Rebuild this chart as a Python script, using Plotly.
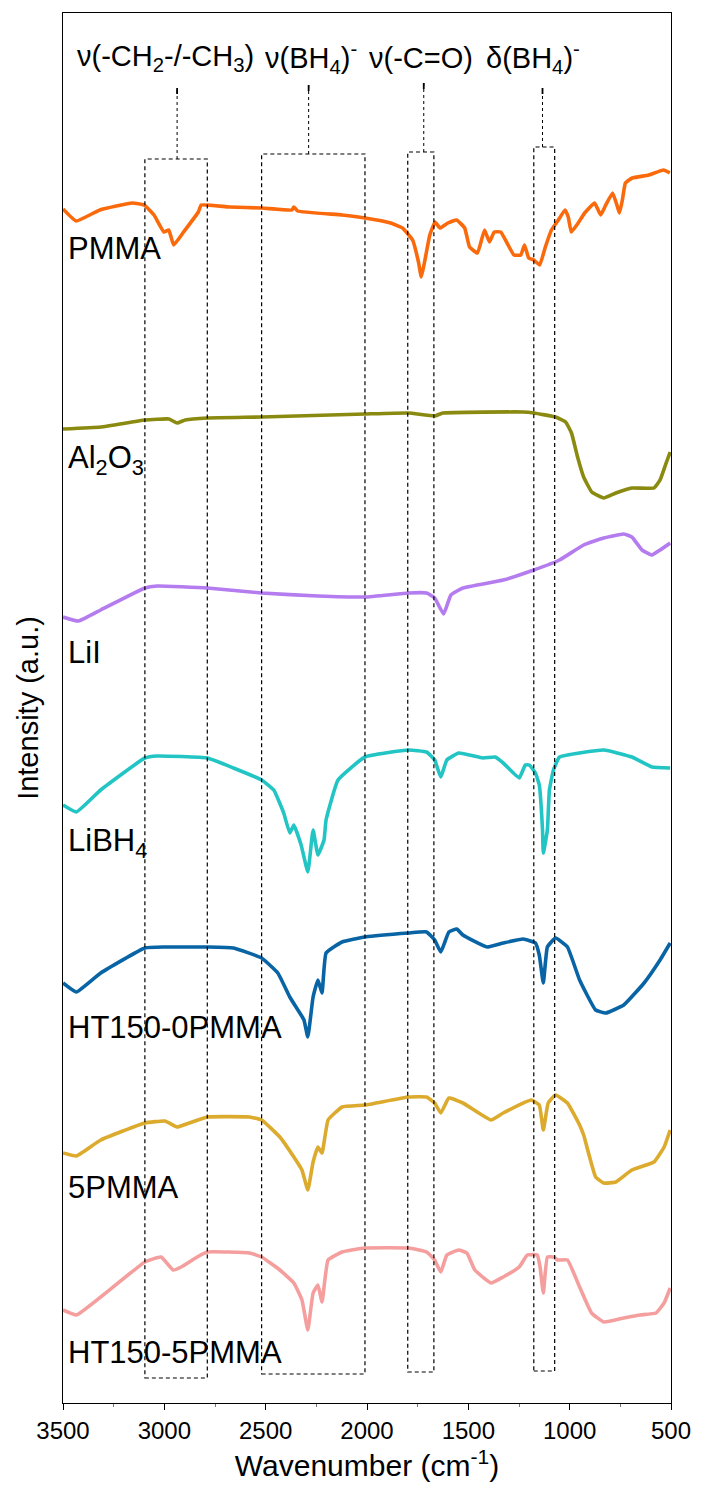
import plotly.graph_objects as go

# ---------------- data ----------------
pmma_w = [3500, 3435, 3318, 3158, 3100, 3051, 3002, 2978, 2954, 2905, 2832, 2818, 2679, 2520, 2371, 2361, 2342,
          2123, 2010, 1884, 1825, 1775, 1746, 1732, 1716, 1690, 1664, 1640, 1601, 1558, 1518, 1494, 1455, 1420,
          1396, 1372, 1340, 1309, 1275, 1241, 1223, 1202, 1177, 1148, 1120, 1090, 1056, 1023, 1007, 992, 958,
          926, 877, 847, 822, 788, 764, 754, 740, 725, 691, 610, 537, 506]
pmma_i = [1194, 1182, 1193, 1200, 1198, 1188, 1171, 1173, 1158, 1171, 1191, 1198, 1196, 1195, 1193, 1196, 1192,
          1188, 1185, 1180, 1175, 1163, 1141, 1126, 1141, 1168, 1181, 1175, 1180, 1183, 1175, 1156, 1150, 1173,
          1161, 1171, 1171, 1160, 1148, 1148, 1158, 1145, 1143, 1138, 1156, 1173, 1183, 1193, 1186, 1171, 1180,
          1190, 1200, 1188, 1198, 1210, 1196, 1190, 1203, 1220, 1225, 1228, 1233, 1230]

al2o3_w = [3500, 3314, 3096, 2977, 2937, 2897, 2788, 2520, 2010, 1795, 1666, 1626, 1229, 1177, 1070, 1020, 991,
           961, 931, 891, 832, 772, 693, 584, 554, 524, 504]
al2o3_i = [974, 976, 983, 984, 980, 983, 985, 986, 989, 990, 987, 990, 991, 990, 986, 981, 970,
           946, 926, 911, 905, 910, 915, 915, 923, 940, 951]

lii_w = [3500, 3424, 3314, 3096, 3036, 2788, 2520, 2242, 2010, 1795, 1706, 1666, 1622, 1586, 1527, 1328, 1177,
         1050, 931, 832, 733, 693, 643, 594, 554, 504]
lii_i = [786, 782, 793, 815, 817, 815, 810, 807, 806, 810, 810, 805, 789, 808, 815, 823, 833,
         843, 858, 865, 869, 866, 853, 848, 853, 860]

libh4_w = [3500, 3434, 3314, 3096, 3036, 2788, 2659, 2520, 2460, 2411, 2381, 2361, 2325, 2292, 2266, 2242, 2212,
           2202, 2143, 2010, 1795, 1706, 1666, 1636, 1606, 1547, 1428, 1368, 1328, 1249, 1219, 1199, 1169, 1150,
           1134, 1130, 1110, 1100, 1080, 1050, 832, 693, 594, 504]
libh4_i = [598, 591, 613, 645, 647, 645, 635, 623, 613, 590, 570, 578, 558, 531, 573, 548, 563,
           583, 623, 646, 653, 651, 643, 626, 643, 650, 645, 646, 640, 625, 638, 638, 630, 618,
           573, 550, 573, 613, 633, 646, 653, 646, 636, 635]

ht0_w = [3500, 3434, 3314, 3096, 2997, 2788, 2659, 2520, 2440, 2381, 2341, 2311, 2292, 2266, 2242, 2222, 2202,
         2123, 2010, 1795, 1706, 1666, 1636, 1596, 1557, 1527, 1408, 1328, 1229, 1169, 1150, 1130, 1110, 1070,
         1011, 951, 872, 822, 733, 633, 554, 504]
ht0_i = [420, 411, 430, 455, 456, 456, 455, 445, 430, 406, 393, 383, 366, 406, 423, 410, 450,
         461, 466, 470, 471, 463, 451, 471, 474, 468, 456, 460, 464, 460, 448, 420, 456, 465,
         456, 423, 393, 390, 398, 420, 443, 460]

p5_w = [3500, 3434, 3314, 3096, 2997, 2937, 2877, 2788, 2580, 2520, 2430, 2361, 2321, 2292, 2266, 2242, 2222,
        2192, 2123, 2010, 1795, 1706, 1666, 1636, 1596, 1527, 1388, 1328, 1189, 1150, 1130, 1106, 1070, 1011,
        951, 931, 872, 832, 772, 693, 584, 534, 504]
p5_i = [250, 247, 263, 280, 282, 276, 280, 286, 286, 283, 266, 246, 233, 213, 241, 256, 250,
        283, 296, 298, 306, 306, 300, 290, 305, 300, 283, 290, 303, 298, 273, 300, 308, 300,
        278, 268, 226, 220, 221, 233, 241, 256, 273]

ht5_w = [3500, 3434, 3314, 3096, 3016, 2957, 2917, 2838, 2788, 2580, 2520, 2430, 2361, 2321, 2292, 2266, 2242,
         2222, 2192, 2123, 2010, 1795, 1706, 1666, 1636, 1606, 1547, 1507, 1468, 1388, 1328, 1249, 1209, 1160,
         1146, 1130, 1110, 1080, 1060, 1011, 951, 892, 832, 733, 653, 574, 534, 504]
ht5_i = [93, 88, 106, 141, 146, 133, 136, 146, 151, 150, 146, 133, 120, 103, 73, 110, 118,
         101, 143, 151, 155, 155, 151, 143, 131, 148, 153, 150, 133, 120, 126, 136, 148, 148,
         136, 110, 146, 146, 143, 143, 116, 90, 81, 85, 88, 90, 100, 115]

sample_names = ["PMMA", "Al<sub>2</sub>O<sub>3</sub>", "LiI", "LiBH<sub>4</sub>", "HT150-0PMMA", "5PMMA", "HT150-5PMMA"]
sample_colors = ["#FA6A0C", "#8A8A10", "#B47CEE", "#22C4C4", "#0864A4", "#DCAA2C", "#F49E9E"]
label_levels = [1155, 943, 751, 560, 376, 216, 51]

band_names = ["ν(-CH<sub>2</sub>-/-CH<sub>3</sub>)", "ν(BH<sub>4</sub>)<sup>-</sup>", "ν(-C=O)", "δ(BH<sub>4</sub>)<sup>-</sup>"]
band_lo = [2788, 2010, 1670, 1074]
band_hi = [3096, 2520, 1799, 1177]
band_mark = [2937, 2288, 1720, 1134]
band_text_x = [2992, 2277, 1732, 1182]

x_ticks = [3500, 3000, 2500, 2000, 1500, 1000, 500]

# ---------------- figure ----------------
series_w = [pmma_w, al2o3_w, lii_w, libh4_w, ht0_w, p5_w, ht5_w]
series_i = [pmma_i, al2o3_i, lii_i, libh4_i, ht0_i, p5_i, ht5_i]

fig = go.Figure()
for w, i, name, col in zip(series_w, series_i, sample_names, sample_colors):
    fig.add_trace(go.Scatter(x=w, y=i, mode="lines", name=name,
                             line=dict(color=col, width=3.6, shape="spline", smoothing=0.35),
                             showlegend=False, hoverinfo="skip"))

FONT = "Liberation Sans, Arial, sans-serif"
annotations = []
for name, lvl in zip(sample_names, label_levels):
    annotations.append(dict(x=3487, y=lvl, xref="x", yref="y", text=name, showarrow=False,
                            xanchor="left", yanchor="middle", font=dict(size=31, color="black", family=FONT)))

box_top = [1244, 1249, 1251, 1256]
box_bot = [25, 29, 31, 32]
lead_top = [1315, 1318, 1320, 1315]
shapes = []
for lo, hi, mk, tx, bn, bt, bb, lt in zip(band_lo, band_hi, band_mark, band_text_x, band_names,
                                          box_top, box_bot, lead_top):
    shapes.append(dict(type="rect", xref="x", yref="y", x0=hi, x1=lo, y0=bb, y1=bt,
                       line=dict(color="black", width=1.2, dash="4px,3px"), fillcolor="rgba(0,0,0,0)"))
    shapes.append(dict(type="line", xref="x", yref="y", x0=mk, x1=mk, y0=bt, y1=lt,
                       line=dict(color="black", width=1, dash="dot")))
    shapes.append(dict(type="line", xref="x", yref="y", x0=mk, x1=mk, y0=lt - 6, y1=lt,
                       line=dict(color="black", width=1.8)))
    annotations.append(dict(x=tx, y=1345, xref="x", yref="y", text=bn, showarrow=False,
                            xanchor="center", yanchor="middle", font=dict(size=29, color="black", family=FONT)))

fig.update_layout(
    width=703, height=1490,
    margin=dict(l=63, r=24, t=13, b=87),
    paper_bgcolor="white", plot_bgcolor="white",
    font=dict(family=FONT, color="black"),
    shapes=shapes, annotations=annotations,
)
fig.update_xaxes(range=[3500, 500], tickvals=x_ticks, ticktext=[str(v) for v in x_ticks],
                 ticks="outside", ticklen=6, tickwidth=1.3, tickcolor="black",
                 minor=dict(ticks="outside", ticklen=3, tickwidth=1, tickcolor="#777", dtick=250, tick0=500),
                 showline=True, linecolor="black", linewidth=1.3, mirror=True,
                 showgrid=False, zeroline=False, tickfont=dict(size=24, family=FONT),
                 title=dict(text="Wavenumber (cm<sup>-1</sup>)", font=dict(size=30, family=FONT), standoff=12))
fig.update_yaxes(range=[0, 1390], showticklabels=False, ticks="",
                 showline=True, linecolor="black", linewidth=1.3, mirror=True,
                 showgrid=False, zeroline=False,
                 title=dict(text="Intensity (a.u.)", font=dict(size=29, family=FONT), standoff=14))

fig.write_html("out.html")
